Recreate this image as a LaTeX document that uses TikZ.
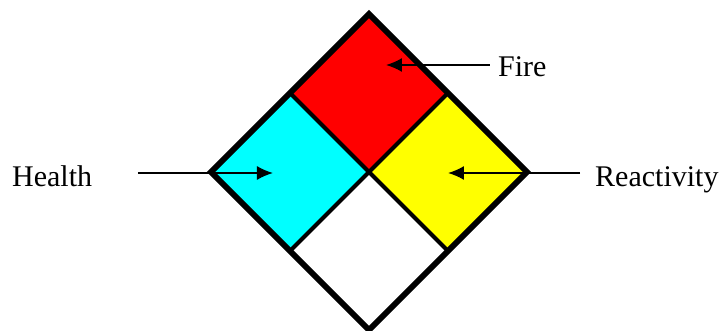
\documentclass[tikz,border=0pt]{standalone}
\usepackage{fontspec}
\setmainfont{Liberation Serif}
\usetikzlibrary{arrows.meta,positioning}

\definecolor{nfpared}{RGB}{255,0,0}
\definecolor{nfpacyan}{RGB}{0,255,255}
\definecolor{nfpayellow}{RGB}{255,255,0}

\begin{document}
\begin{tikzpicture}[
    x=1pt, y=1pt,
    >={Latex[length=16pt,width=14pt]},
    label/.style={inner sep=0pt,anchor=base west,font=\fontsize{30}{36}\selectfont},
    pointer/.style={draw,->,line width=1.6pt},
    quarter/.style={draw=black,line width=4pt,line join=miter}
  ]
    \useasboundingbox (-369,-159) rectangle (357,172);

    % corners of the diamond
    \coordinate (T) at (0,158);
    \coordinate (L) at (-158,0);
    \coordinate (R) at (158,0);
    \coordinate (B) at (0,-158);
    \coordinate (C) at (0,0);
    \coordinate (TL) at (-79,79);
    \coordinate (TR) at (79,79);
    \coordinate (BL) at (-79,-79);
    \coordinate (BR) at (79,-79);

    \fill[nfpared] (T) -- (TR) -- (C) -- (TL) -- cycle;
    \fill[nfpacyan] (TL) -- (C) -- (BL) -- (L) -- cycle;
    \fill[nfpayellow] (TR) -- (R) -- (BR) -- (C) -- cycle;

    \draw[quarter] (TL) -- (BR) (TR) -- (BL);
    \draw[line width=6pt,line join=miter] (T) -- (R) -- (B) -- (L) -- cycle;

    \node[label] (fire) at (129,95) {Fire};
    \node[label] (health) at (-357,-15) {Health};
    \node[label] (reactivity) at (226,-15) {Reactivity};

    \coordinate (fireA) at (121,107);
    \coordinate (fireB) at (17,107);
    \coordinate (healthA) at (-231,-1);
    \coordinate (healthB) at (-96,-1);
    \coordinate (reactA) at (211,-1);
    \coordinate (reactB) at (79,-1);

    \path (fireA) edge[pointer] (fireB)
          (healthA) edge[pointer] (healthB)
          (reactA) edge[pointer] (reactB);
  \end{tikzpicture}
\end{document}
